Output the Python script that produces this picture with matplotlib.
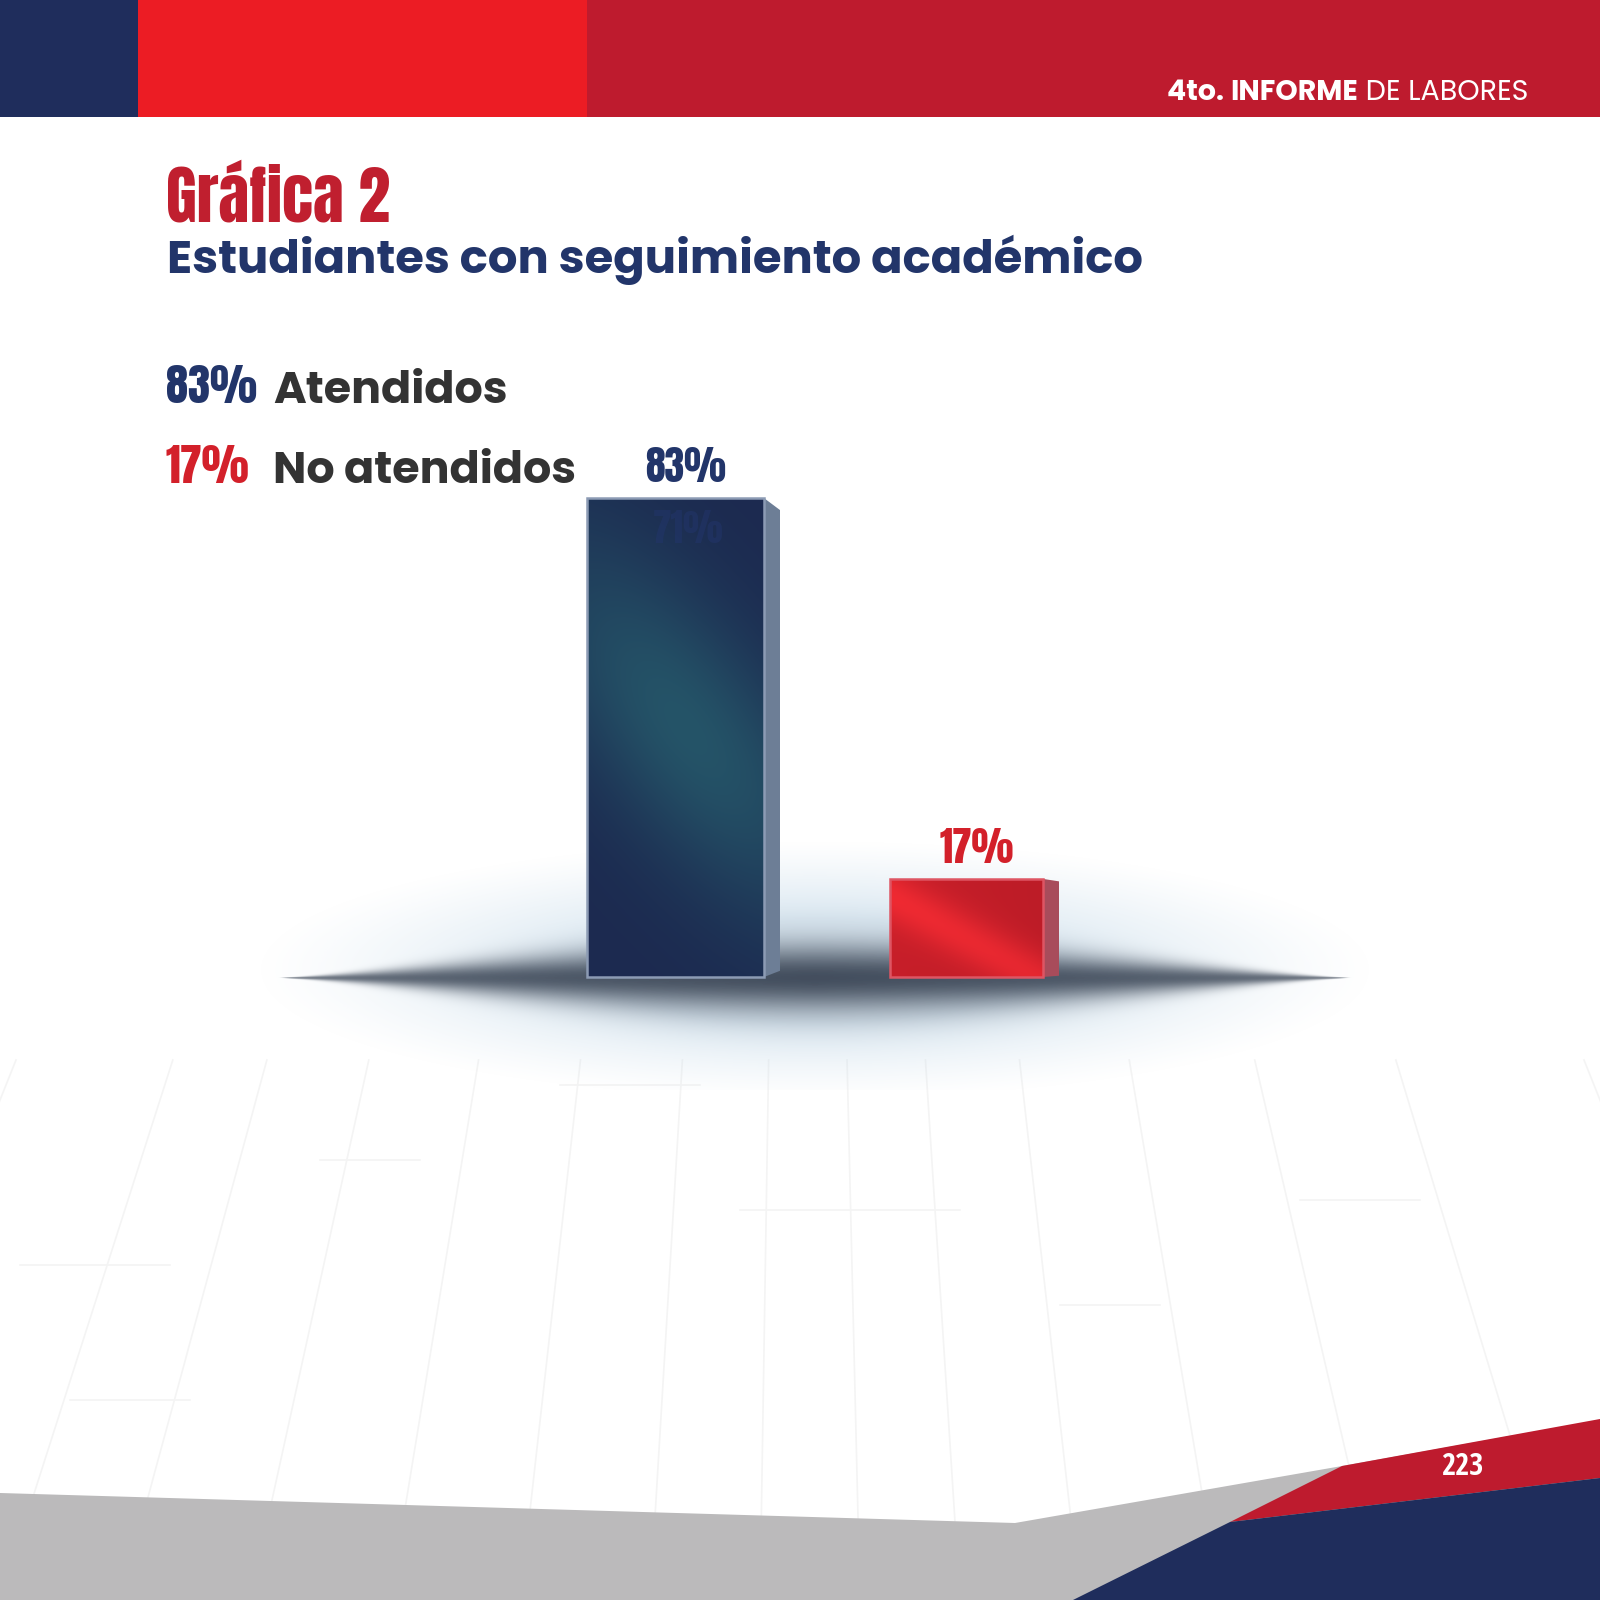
import numpy as np
import matplotlib
matplotlib.use("Agg")
import matplotlib.pyplot as plt
from matplotlib.patches import Polygon, Rectangle
from matplotlib.colors import to_rgb

# datos de la grafica
categorias = ["Atendidos", "No atendidos"]
porcentajes = [83, 17]
etiquetas = ["83%", "17%"]

titulo = "Gráfica 2"
subtitulo = "Estudiantes con seguimiento académico"
pagina = "223"

NAVY = "#1f2d5c"
NAVY_TXT = "#22356a"
RED = "#ec1c24"
DARK_RED = "#be1b2e"
TXT_RED = "#d3202a"
GRAY_TXT = "#333333"

CONDENSED = ["Anton", "Oswald", "DejaVu Sans"]
SANS = ["Poppins", "Lato", "DejaVu Sans"]
PAGE_FONT = ["Open Sans Condensed", "Roboto Condensed", "DejaVu Sans"]

W, H = 1600, 1600
fig = plt.figure(figsize=(16, 16), dpi=100)
fig.patch.set_facecolor("white")

# ejes de fondo en pixeles (origen arriba a la izquierda)
bg = fig.add_axes([0, 0, 1, 1], zorder=0)
bg.set_xlim(0, W)
bg.set_ylim(H, 0)
bg.axis("off")

# cabecera
bg.add_patch(Rectangle((0, 0), 138, 117, color=NAVY, lw=0))
bg.add_patch(Rectangle((138, 0), 449, 117, color=RED, lw=0))
bg.add_patch(Rectangle((587, 0), W - 587, 117, color=DARK_RED, lw=0))

# lineas tenues del piso en perspectiva
vp = (800, -900)
for xb in [-200, 0, 120, 250, 390, 520, 650, 760, 860, 960, 1080, 1220, 1380, 1560, 1800]:
    y0 = 1060
    t0 = (y0 - vp[1]) / (H - vp[1])
    x0 = vp[0] + (xb - vp[0]) * t0
    bg.plot([x0, xb], [y0, H], color="#f4f4f4", lw=1.2, zorder=0.5)
for yh, xa, xb2 in [(1085, 560, 700), (1160, 320, 420), (1200, 1300, 1420), (1210, 740, 960),
                    (1265, 20, 170), (1305, 1060, 1160), (1400, 70, 190)]:
    bg.plot([xa, xb2], [yh, yh], color="#f4f4f4", lw=1.2, zorder=0.5)

# sombra / brillo bajo las barras
cx, cy = 815, 978
xs = np.linspace(240, 1400, 600)
ys = np.linspace(790, 1090, 300)
X, Y = np.meshgrid(xs, ys)
dx = (X - cx) / 545.0
glow_r = np.sqrt(((X - cx) / 560.0) ** 2 + ((Y - cy + 8) / 130.0) ** 2)
g = np.clip((1 - glow_r) / 0.6, 0, 1)
glow_a = g ** 1.2 * 0.6
half = 40 * np.clip(1 - dx ** 2, 0, 1) ** 1.5 + 0.01
core_a = np.exp(-((Y - cy) / half) ** 2 * 1.4) * np.clip(1 - np.abs(dx), 0, 1) ** 0.12
core_a = np.where(np.abs(dx) < 1, core_a, 0) * 0.95
glow_c = np.array(to_rgb("#c3d9e9"))
core_c = np.array(to_rgb("#3b4656"))
alpha = core_a + glow_a * (1 - core_a)
rgb = (core_c * core_a[..., None] + glow_c * (glow_a * (1 - core_a))[..., None]) / np.maximum(alpha, 1e-6)[..., None]
img = np.dstack([rgb, alpha])
bg.imshow(img, extent=(xs[0], xs[-1], ys[-1], ys[0]), interpolation="bilinear", zorder=1)

# pie de pagina
bg.add_patch(Polygon([(0, 1493), (1015, 1523), (1342, 1466), (1600, 1420), (1600, 1600), (0, 1600)],
                     closed=True, color="#bbbabb", lw=0, zorder=2))
bg.add_patch(Polygon([(1342, 1466), (1600, 1419), (1600, 1478), (1230, 1522)],
                     closed=True, color=DARK_RED, lw=0, zorder=2))
bg.add_patch(Polygon([(1230, 1522), (1600, 1478), (1600, 1600), (1073, 1600)],
                     closed=True, color=NAVY, lw=0, zorder=2))
bg.text(1462, 1467, pagina, color="white", fontsize=22, fontweight="bold", family=PAGE_FONT,
        ha="center", va="center", zorder=3)

# texto de cabecera
renderer = fig.canvas.get_renderer()
x_right = 1528
for txt, wt in [(" DE LABORES", "normal"), ("INFORME", "bold"), ("4to. ", "bold")]:
    t = bg.text(x_right, 100, txt, color="white", fontsize=20.5, fontweight=wt, family=SANS,
                ha="right", va="baseline", zorder=3)
    x_right -= t.get_window_extent(renderer=renderer).width

# titulos
bg.text(166, 222, titulo, color="#c01f2f", fontsize=45.5, family=CONDENSED, ha="left", va="baseline")
bg.text(167, 273, subtitulo, color=NAVY_TXT, fontsize=33.5, fontweight="bold", family=SANS,
        ha="left", va="baseline")

# leyenda
col_num = [NAVY_TXT, TXT_RED]
for i, (cat, lab) in enumerate(zip(categorias, etiquetas)):
    yb = 403 + i * 80
    bg.text(166, yb, lab, color=col_num[i], fontsize=32, family=CONDENSED, ha="left", va="baseline")
    bg.text(273, yb, cat, color=GRAY_TXT, fontsize=32, fontweight="bold", family=SANS,
            ha="left", va="baseline")

# ejes de las barras: x en pixeles, y en porcentaje
base_px = 977
px_per_unit = 5.77
ax = fig.add_axes([0, 0, 1, 1], zorder=1)
ax.patch.set_alpha(0)
ax.set_xlim(0, W)
ax.set_ylim((base_px - H) / px_per_unit, base_px / px_per_unit)
ax.axis("off")

centros = [675.5, 966.5]
anchos = [177, 153]
bordes = ["#8c9bb4", "#de5563"]
lados = ["#6d7e96", "#a84c5b"]
bars = ax.bar(centros, porcentajes, width=anchos, color="none", edgecolor=bordes, linewidth=1.8, zorder=4)


def front_gradient(x0, x1, v, kind):
    gx = np.linspace(x0, x1, 120)
    gv = np.linspace(0, v, 300)
    GX, GV = np.meshgrid(gx, gv)
    GY = base_px - GV * px_per_unit  # pixel desde arriba
    if kind == 0:
        p0 = np.array([590.0, 600.0])
        d = np.array([165.0, 220.0])
        d /= np.linalg.norm(d)
        rx, ry = GX - p0[0], GY - p0[1]
        along = rx * d[0] + ry * d[1]
        perp = -rx * d[1] + ry * d[0]
        w = np.exp(-(perp / 95.0) ** 2) * np.exp(-((along - 160) / 230.0) ** 2) * 0.95
        c0 = np.array(to_rgb("#1c2a50"))
        c1 = np.array(to_rgb("#255669"))
    else:
        p0 = np.array([905.0, 905.0])
        d = np.array([100.0, 55.0])
        d /= np.linalg.norm(d)
        rx, ry = GX - p0[0], GY - p0[1]
        perp = -rx * d[1] + ry * d[0]
        w = np.exp(-(perp / 24.0) ** 2) * 0.8 + 0.2 * (1 - (GX - x0) / (x1 - x0))
        c0 = np.array(to_rgb("#bd1c27"))
        c1 = np.array(to_rgb("#ef2a32"))
    return c0 + (c1 - c0) * w[..., None]


for i, b in enumerate(bars):
    x0, x1 = b.get_x(), b.get_x() + b.get_width()
    v = b.get_height()
    im = ax.imshow(front_gradient(x0, x1, v, i), extent=(x0, x1, 0, v), origin="lower",
                   aspect="auto", interpolation="bilinear", zorder=3)
    im.set_clip_path(b)
    h_px = v * px_per_unit
    top_drop = 0.025 * h_px / px_per_unit
    bot_rise = 0.013 * h_px / px_per_unit
    side = Polygon([(x1, v), (x1 + 16, v - top_drop), (x1 + 16, bot_rise), (x1, 0)],
                   closed=True, facecolor=lados[i], edgecolor="none", zorder=3)
    ax.add_patch(side)
    ax.text(b.get_x() + b.get_width() / 2 + 10, v + 16 / px_per_unit, etiquetas[i], color=col_num[i],
            fontsize=28.5, family=CONDENSED, ha="center", va="baseline", zorder=5)

# texto fantasma dentro de la barra azul
ax.text(688, (base_px - 543) / px_per_unit, "71%", color="#22356a", alpha=0.55, fontsize=27,
        family=CONDENSED, ha="center", va="baseline", zorder=5)

fig.savefig("out.png", dpi=100, facecolor="white")
